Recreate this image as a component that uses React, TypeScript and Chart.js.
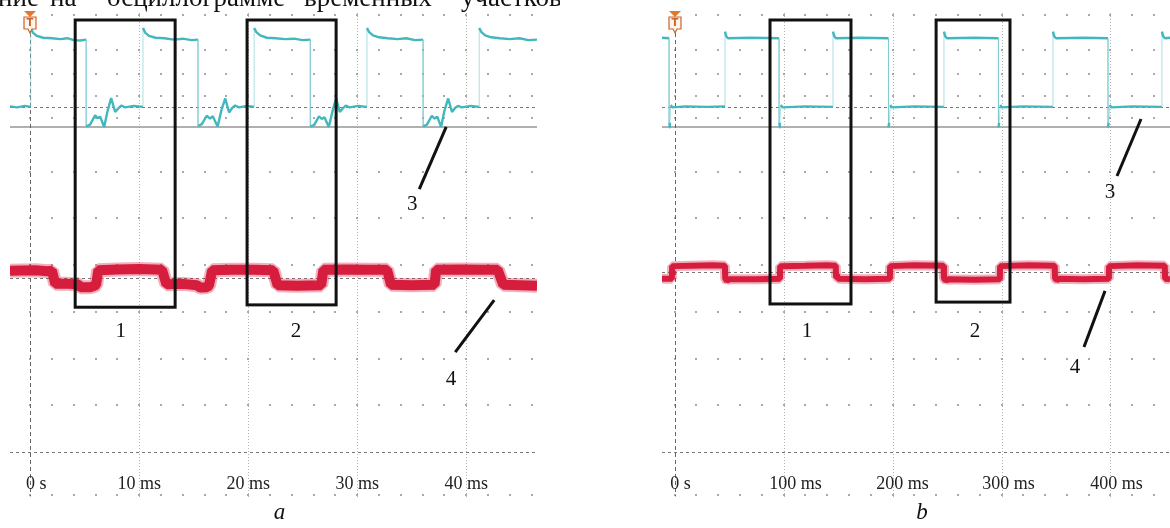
import React, { useEffect, useRef } from 'react';
import { Chart, registerables } from 'chart.js';

Chart.register(...registerables);

const SERIF = '"Liberation Serif", "DejaVu Serif", serif';
const CYAN = 'rgb(66, 184, 190)';
const CYAN_EDGE = 'rgba(120, 200, 206, 0.6)';
const RED = 'rgb(214, 30, 62)';
const RED_HALO = 'rgba(214, 30, 62, 0.35)';

// ---------- Panel a (time in ms, level in screen divisions) ----------
const ticksA = [0, 10, 20, 30, 40];
const tickLabelsA = ['0 s', '10 ms', '20 ms', '30 ms', '40 ms'];

const ch3TimeA = [
  -1.85, -1.2, -0.5, 0.05,
  0.05, 0.25, 0.6, 1.2, 2.0, 2.8, 3.4, 4.0, 4.6, 5.14,
  5.14, 5.5, 5.96, 6.2, 6.42, 6.79, 7.1, 7.43, 7.8, 8.1, 8.35, 8.72, 9.5, 10.35,
  10.35, 10.55, 10.9, 11.5, 12.3, 13.2, 14.0, 14.8, 15.4,
  15.4, 15.75, 16.2, 16.5, 16.75, 17.2, 17.55, 17.9, 18.25, 18.55, 18.8, 19.15, 19.9, 20.55,
  20.55, 20.75, 21.1, 21.7, 22.5, 23.4, 24.2, 25.0, 25.7,
  25.7, 26.05, 26.5, 26.75, 27.0, 27.4, 27.75, 28.07, 28.4, 28.7, 28.95, 29.3, 30.1, 30.9,
  30.9, 31.1, 31.45, 32.0, 32.8, 33.7, 34.5, 35.3, 36.05,
  36.05, 36.4, 36.85, 37.1, 37.35, 37.7, 38.0, 38.35, 38.7, 39.0, 39.25, 39.6, 40.4, 41.2,
  41.2, 41.4, 41.75, 42.3, 43.1, 44.0, 44.9, 45.7, 46.5,
];
const ch3LevelA = [
  7.4, 7.38, 7.41, 7.39,
  9.08, 8.98, 8.91, 8.87, 8.86, 8.84, 8.86, 8.82, 8.81, 8.83,
  6.97, 7.01, 7.21, 7.15, 7.18, 6.96, 7.3, 7.58, 7.28, 7.36, 7.42, 7.38, 7.41, 7.39,
  9.08, 8.98, 8.91, 8.87, 8.86, 8.83, 8.85, 8.82, 8.83,
  6.98, 7.02, 7.2, 7.14, 7.19, 6.97, 7.32, 7.57, 7.27, 7.37, 7.42, 7.38, 7.41, 7.39,
  9.08, 8.99, 8.92, 8.87, 8.86, 8.84, 8.85, 8.82, 8.83,
  6.97, 7.0, 7.19, 7.13, 7.17, 6.96, 7.31, 7.58, 7.28, 7.36, 7.42, 7.38, 7.41, 7.39,
  9.08, 8.99, 8.92, 8.88, 8.86, 8.84, 8.86, 8.82, 8.83,
  6.97, 7.01, 7.2, 7.14, 7.18, 6.96, 7.3, 7.57, 7.28, 7.37, 7.41, 7.38, 7.41, 7.39,
  9.08, 8.99, 8.92, 8.88, 8.86, 8.84, 8.86, 8.82, 8.83,
];

const ch4TimeA = [
  -1.85, 0.5, 1.6, 2.0, 2.3, 3.5, 4.4, 4.6, 5.5, 5.9, 6.05, 6.25, 8.0, 10.0, 12.1, 12.5,
  14.0, 15.3, 15.6, 16.2, 16.4, 16.7, 18.5, 20.5, 22.3, 22.7, 24.5, 26.7, 26.9, 29.0,
  31.0, 32.75, 33.1, 35.0, 37.1, 37.25, 39.5, 41.5, 42.9, 43.4, 46.5,
];
const ch4LevelA = [
  3.88, 3.89, 3.87, 3.88, 3.6, 3.6, 3.59, 3.53, 3.53, 3.56, 3.58, 3.89, 3.91, 3.92, 3.9, 3.59,
  3.6, 3.57, 3.52, 3.53, 3.56, 3.89, 3.9, 3.9, 3.89, 3.57, 3.56, 3.57, 3.9, 3.91,
  3.9, 3.9, 3.58, 3.57, 3.58, 3.9, 3.91, 3.9, 3.9, 3.58, 3.56,
];

// boxes: [tStart, tEnd, topLevel, bottomLevel]
const boxesA = [
  [4.13, 13.3, 9.25, 3.1],
  [19.9, 28.07, 9.25, 3.15],
];
const labelTextA = ['1', '2', '3', '4'];
const labelTimeA = [8.3, 24.4, 35.05, 38.6];
const labelLevelA = [2.57, 2.57, 5.29, 1.56];
// leaders: [t0, v0, t1, v1]
const leadersA = [
  [35.7, 5.63, 38.17, 6.96],
  [39.0, 2.14, 42.57, 3.25],
];

// ---------- Panel b ----------
const ticksB = [0, 100, 200, 300, 400];
const tickLabelsB = ['0 s', '100 ms', '200 ms', '300 ms', '400 ms'];

const ch3TimeB = [
  -11.5, -5.0,
  -5.0, -4.3, -3.4, -2.0, 10, 30, 46.3,
  46.3, 47.5, 49, 70, 95.9,
  95.9, 96.6, 97.5, 99, 120, 145.4,
  145.4, 146.6, 148, 170, 196.3,
  196.3, 197.0, 197.9, 199.4, 220, 247.2,
  247.2, 248.4, 250, 275, 297.2,
  297.2, 297.9, 298.8, 300.3, 320, 347.2,
  347.2, 348.4, 350, 375, 397.7,
  397.7, 398.4, 399.3, 400.8, 420, 447.2,
  447.2, 448.4, 450, 454.6,
];
const ch3LevelB = [
  8.87, 8.86,
  6.95, 7.05, 7.43, 7.38, 7.4, 7.39, 7.4,
  9.0, 8.9, 8.86, 8.87, 8.86,
  6.95, 7.05, 7.43, 7.38, 7.4, 7.39,
  9.0, 8.9, 8.86, 8.87, 8.86,
  6.95, 7.05, 7.43, 7.38, 7.4, 7.39,
  9.0, 8.9, 8.86, 8.87, 8.86,
  6.95, 7.05, 7.43, 7.38, 7.4, 7.39,
  9.0, 8.9, 8.86, 8.87, 8.86,
  6.95, 7.05, 7.43, 7.38, 7.4, 7.39,
  9.0, 8.9, 8.86, 8.87,
];

const ch4TimeB = [
  -11.5, -2.4, -2.2, 15, 35, 46.2, 46.5, 48, 50, 75, 96.7, 96.9, 120, 140, 147.9, 148.2,
  149, 150, 175, 197.6, 197.8, 220, 246.9, 247.2, 249, 251, 275, 298.5, 298.7, 325,
  348.8, 349.1, 351, 353, 375, 398.5, 398.7, 425, 449.8, 450.1, 454.6,
];
const ch4LevelB = [
  3.71, 3.71, 3.98, 3.99, 4.0, 3.99, 3.72, 3.66, 3.7, 3.7, 3.71, 3.98, 3.99, 4.0, 3.99, 3.74,
  3.8, 3.71, 3.7, 3.71, 3.98, 4.0, 3.99, 3.72, 3.67, 3.7, 3.69, 3.7, 3.98, 4.0,
  3.99, 3.72, 3.68, 3.71, 3.7, 3.71, 3.98, 4.0, 3.99, 3.71, 3.7,
];

const boxesB = [
  [87.6, 161.9, 9.25, 3.17],
  [240, 307.8, 9.25, 3.21],
];
const labelTextB = ['1', '2', '3', '4'];
const labelTimeB = [121.6, 275.7, 399.5, 367.4];
const labelLevelB = [2.57, 2.57, 5.55, 1.8];
const leadersB = [
  [406, 5.91, 428, 7.13],
  [375.7, 2.25, 395, 3.45],
];

// screen grid rows (divisions), reference lines
const dotRows = [9.36, 8.6, 8.1, 7.62, 7.15, 6, 5, 4, 3, 2, 1, -0.92];
const groundLevel = 6.96;
const yMin = 0;
const yMax = 9.4;

type Panel = {
  left: number;
  width: number;
  pad: { left: number; right: number; top: number; bottom: number };
  xMin: number;
  xMax: number;
  ticks: number[];
  tickLabels: string[];
  tickShift: number[];
  minorStep: number;
  ch3T: number[];
  ch3V: number[];
  ch4T: number[];
  ch4V: number[];
  ch4Width: number;
  boxes: number[][];
  labelText: string[];
  labelT: number[];
  labelV: number[];
  leaders: number[][];
  refs: number[];
  caption: string;
  header: boolean;
};

const panelA: Panel = {
  left: 0,
  width: 560,
  pad: { left: 10, right: 23, top: 13, bottom: 76 },
  xMin: -1.85,
  xMax: 46.5,
  ticks: ticksA,
  tickLabels: tickLabelsA,
  tickShift: [6, 0, 0, 0, 0],
  minorStep: 2,
  ch3T: ch3TimeA,
  ch3V: ch3LevelA,
  ch4T: ch4TimeA,
  ch4V: ch4LevelA,
  ch4Width: 10,
  boxes: boxesA,
  labelText: labelTextA,
  labelT: labelTimeA,
  labelV: labelLevelA,
  leaders: leadersA,
  refs: [7.39, 3.73, 0],
  caption: 'a',
  header: true,
};

const panelB: Panel = {
  left: 600,
  width: 570,
  pad: { left: 62, right: 0, top: 13, bottom: 76 },
  xMin: -11.5,
  xMax: 454.6,
  ticks: ticksB,
  tickLabels: tickLabelsB,
  tickShift: [6, 12, 10, 7, 6],
  minorStep: 20,
  ch3T: ch3TimeB,
  ch3V: ch3LevelB,
  ch4T: ch4TimeB,
  ch4V: ch4LevelB,
  ch4Width: 6,
  boxes: boxesB,
  labelText: labelTextB,
  labelT: labelTimeB,
  labelV: labelLevelB,
  leaders: leadersB,
  refs: [7.39, 3.85, 0],
  caption: 'b',
  header: false,
};

const headerWords = ['ние', 'на', 'осциллограмме', 'временных', 'участков,'];
const headerX = [-2, 50, 107, 304, 461];

function makePlugin(p: Panel) {
  return {
    id: 'scopeGrid',
    beforeDatasetsDraw(chart: any) {
      const { ctx, chartArea: ca } = chart;
      const x = chart.scales.x;
      const y = chart.scales.y;
      const lineBottom = y.getPixelForValue(-0.95);
      ctx.save();
      // dot grid
      ctx.fillStyle = 'rgba(140,140,140,0.75)';
      const first = Math.ceil(p.xMin / p.minorStep) * p.minorStep;
      for (const r of dotRows) {
        const py = Math.round(y.getPixelForValue(r));
        for (let t = first; t <= p.xMax; t += p.minorStep) {
          const px = Math.round(x.getPixelForValue(t));
          ctx.fillRect(px - 1, py - 1, 2, 2);
        }
      }
      // major vertical dotted lines
      ctx.fillStyle = 'rgba(150,150,150,0.7)';
      for (const t of p.ticks) {
        if (t === 0) continue;
        const px = Math.round(x.getPixelForValue(t));
        for (let py = ca.top; py < lineBottom; py += 3) ctx.fillRect(px, py, 1, 1);
      }
      // ground line
      ctx.strokeStyle = 'rgb(150,150,150)';
      ctx.lineWidth = 1.5;
      const gy = y.getPixelForValue(groundLevel);
      ctx.beginPath();
      ctx.moveTo(ca.left, gy);
      ctx.lineTo(ca.right, gy);
      ctx.stroke();
      // dashed reference lines
      ctx.strokeStyle = 'rgb(120,120,120)';
      ctx.lineWidth = 1;
      ctx.setLineDash([3, 3]);
      for (const r of p.refs) {
        const py = Math.round(y.getPixelForValue(r)) + 0.5;
        ctx.beginPath();
        ctx.moveTo(ca.left, py);
        ctx.lineTo(ca.right, py);
        ctx.stroke();
      }
      // trigger vertical dashed line
      const tx = Math.round(x.getPixelForValue(0)) + 0.5;
      ctx.strokeStyle = 'rgb(100,100,100)';
      ctx.setLineDash([4, 3]);
      ctx.beginPath();
      ctx.moveTo(tx, ca.top + 20);
      ctx.lineTo(tx, lineBottom);
      ctx.stroke();
      ctx.restore();
    },
    afterDatasetsDraw(chart: any) {
      const { ctx, chartArea: ca } = chart;
      const x = chart.scales.x;
      const y = chart.scales.y;
      ctx.save();
      // trigger marker
      const tx = Math.round(x.getPixelForValue(0));
      const top = ca.top;
      ctx.fillStyle = 'rgb(226,120,40)';
      ctx.beginPath();
      ctx.moveTo(tx - 6, top - 2);
      ctx.lineTo(tx + 6, top - 2);
      ctx.lineTo(tx, top + 4);
      ctx.closePath();
      ctx.fill();
      ctx.fillStyle = 'rgb(255,245,235)';
      ctx.strokeStyle = 'rgb(200,100,40)';
      ctx.lineWidth = 1.2;
      ctx.beginPath();
      ctx.moveTo(tx - 6, top + 4);
      ctx.lineTo(tx + 6, top + 4);
      ctx.lineTo(tx + 6, top + 16);
      ctx.lineTo(tx + 2, top + 16);
      ctx.lineTo(tx, top + 20);
      ctx.lineTo(tx - 2, top + 16);
      ctx.lineTo(tx - 6, top + 16);
      ctx.closePath();
      ctx.fill();
      ctx.stroke();
      ctx.fillStyle = 'rgb(200,100,40)';
      ctx.font = 'bold 10px "DejaVu Sans", sans-serif';
      ctx.textAlign = 'center';
      ctx.textBaseline = 'middle';
      ctx.fillText('T', tx, top + 10.5);

      // boxes
      ctx.strokeStyle = '#111';
      ctx.lineWidth = 3;
      for (const b of p.boxes) {
        const x0 = x.getPixelForValue(b[0]);
        const x1 = x.getPixelForValue(b[1]);
        const y0 = y.getPixelForValue(b[2]);
        const y1 = y.getPixelForValue(b[3]);
        ctx.strokeRect(x0, y0, x1 - x0, y1 - y0);
      }
      // leaders
      ctx.lineWidth = 3;
      for (const l of p.leaders) {
        ctx.beginPath();
        ctx.moveTo(x.getPixelForValue(l[0]), y.getPixelForValue(l[1]));
        ctx.lineTo(x.getPixelForValue(l[2]), y.getPixelForValue(l[3]));
        ctx.stroke();
      }
      // number labels
      ctx.fillStyle = '#111';
      ctx.font = `21px ${SERIF}`;
      ctx.textAlign = 'center';
      ctx.textBaseline = 'middle';
      p.labelText.forEach((s, i) => {
        ctx.fillText(s, x.getPixelForValue(p.labelT[i]), y.getPixelForValue(p.labelV[i]));
      });
      // tick labels
      ctx.font = `18px ${SERIF}`;
      ctx.fillStyle = '#222';
      ctx.textAlign = 'center';
      const ly = ca.bottom + 32;
      p.ticks.forEach((t, i) => {
        ctx.fillText(p.tickLabels[i], x.getPixelForValue(t) + p.tickShift[i], ly);
      });
      // caption
      ctx.font = `italic 23px ${SERIF}`;
      ctx.textAlign = 'center';
      ctx.fillStyle = '#111';
      ctx.fillText(p.caption, (ca.left + ca.right) / 2 + 6, ca.bottom + 61);
      // header line (cut off at top)
      if (p.header) {
        ctx.font = `27px ${SERIF}`;
        ctx.textAlign = 'left';
        ctx.textBaseline = 'alphabetic';
        headerWords.forEach((w, i) => ctx.fillText(w, headerX[i], 6));
      }
      ctx.restore();
    },
  };
}

function ScopePanel({ p }: { p: Panel }) {
  const ref = useRef<HTMLCanvasElement | null>(null);
  useEffect(() => {
    if (!ref.current) return;
    const ch3 = p.ch3T.map((t, i) => ({ x: t, y: p.ch3V[i] }));
    const ch4 = p.ch4T.map((t, i) => ({ x: t, y: p.ch4V[i] }));
    const isEdge = (c: any) => Math.abs(c.p1.x - c.p0.x) < 1.2 && Math.abs(c.p1.y - c.p0.y) > 8;
    const chart = new Chart(ref.current, {
      type: 'line',
      data: {
        datasets: [
          {
            data: ch4,
            borderColor: RED_HALO,
            borderWidth: p.ch4Width + 4,
            pointRadius: 0,
            tension: 0,
            borderJoinStyle: 'bevel',
            borderCapStyle: 'butt',
          } as any,
          {
            data: ch4,
            borderColor: RED,
            borderWidth: p.ch4Width,
            pointRadius: 0,
            tension: 0,
            borderJoinStyle: 'bevel',
            borderCapStyle: 'butt',
          } as any,
          {
            data: ch3,
            borderColor: CYAN,
            borderWidth: 2.4,
            pointRadius: 0,
            tension: 0,
            borderJoinStyle: 'bevel',
            segment: {
              borderColor: (c: any) => (isEdge(c) ? CYAN_EDGE : CYAN),
              borderWidth: (c: any) => (isEdge(c) ? 1 : 2.4),
            },
          } as any,
        ],
      },
      options: {
        responsive: false,
        maintainAspectRatio: false,
        animation: false,
        events: [],
        layout: { padding: p.pad },
        scales: {
          x: { type: 'linear', min: p.xMin, max: p.xMax, display: false },
          y: { type: 'linear', min: yMin, max: yMax, display: false },
        },
        plugins: { legend: { display: false }, tooltip: { enabled: false } },
      },
      plugins: [makePlugin(p)],
    });
    return () => chart.destroy();
  }, [p]);
  return (
    <canvas
      ref={ref}
      width={p.width}
      height={528}
      style={{ position: 'absolute', left: p.left, top: 0, width: p.width, height: 528 }}
    />
  );
}

export default function App() {
  return (
    <div style={{ position: 'absolute', left: 0, top: 0, width: 1170, height: 528, background: '#fff', overflow: 'hidden' }}>
      <ScopePanel p={panelA} />
      <ScopePanel p={panelB} />
    </div>
  );
}
